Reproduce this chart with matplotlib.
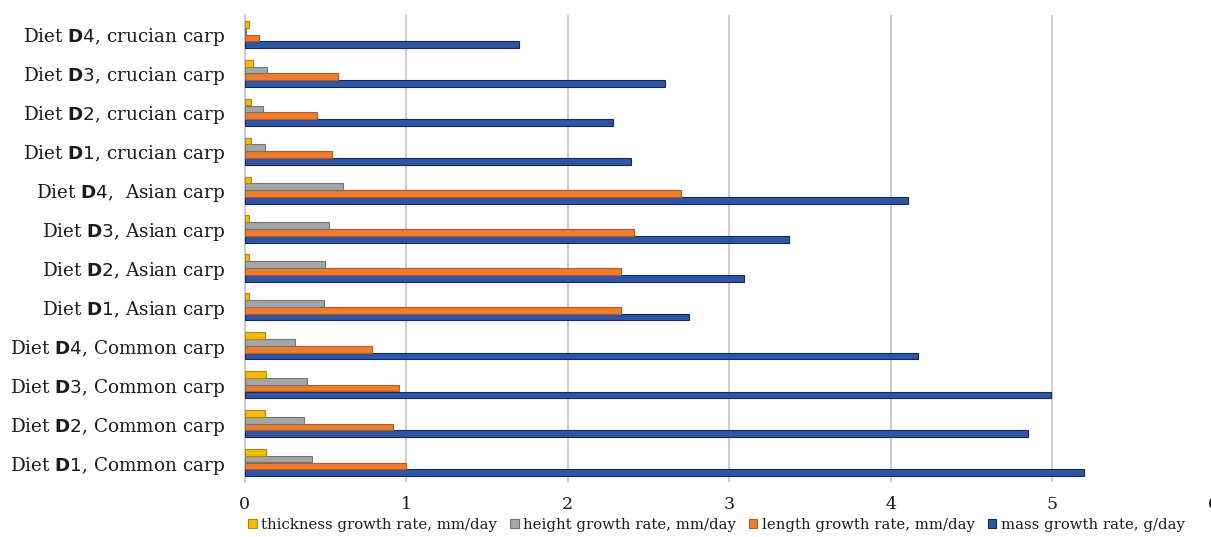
import numpy as np
import matplotlib.pyplot as plt

plt.rcParams['font.family'] = 'DejaVu Serif'
plt.rcParams['mathtext.fontset'] = 'custom'
plt.rcParams['mathtext.rm'] = 'DejaVu Serif'
plt.rcParams['mathtext.bf'] = 'DejaVu Sans:bold'
plt.rcParams['mathtext.sf'] = 'DejaVu Sans'

# groups from bottom to top
fish = ['Common carp'] * 4 + ['Asian carp'] * 4 + ['crucian carp'] * 4
diets = ['1', '2', '3', '4'] * 3

mass = [5.20, 4.85, 4.99, 4.17, 2.75, 3.09, 3.37, 4.11, 2.39, 2.28, 2.60, 1.70]
length = [1.00, 0.92, 0.955, 0.79, 2.33, 2.33, 2.41, 2.70, 0.54, 0.45, 0.58, 0.087]
height = [0.42, 0.367, 0.385, 0.31, 0.49, 0.50, 0.52, 0.61, 0.126, 0.115, 0.136, 0.006]
thickness = [0.13, 0.125, 0.135, 0.125, 0.03, 0.03, 0.03, 0.04, 0.04, 0.04, 0.05, 0.03]

labels = []
for d, f in zip(diets, fish):
    sep = ',  ' if (d == '4' and f == 'Asian carp') else ', '
    labels.append(r'Diet $\mathbf{D}\mathsf{' + d + '}$' + sep + f)

series = [
    (mass, 'mass growth rate, g/day', '#2F56A6', '#14285A'),
    (length, 'length growth rate, mm/day', '#ED7D31', '#B45A1C'),
    (height, 'height growth rate, mm/day', '#A5A5A5', '#737373'),
    (thickness, 'thickness growth rate, mm/day', '#F2BC0C', '#B08800'),
]

fig = plt.figure(figsize=(12.11, 5.37), dpi=100)
ax = fig.add_axes([0.202, 0.1025, 0.8002, 0.8695])

y = np.arange(len(labels))
h = 0.175
bars = []
for k, (vals, name, col, edge) in enumerate(series):
    b = ax.barh(y + (k - 1.5) * h, vals, height=h * 0.98, color=col,
                edgecolor=edge, linewidth=0.8, label=name, zorder=3)
    bars.append(b)

ax.set_xlim(0, 6)
ax.set_ylim(-0.5, len(labels) - 0.5)
ax.set_xticks(range(7))
ax.set_yticks(y)
ax.set_yticklabels(labels, fontsize=13.2, color='#1a1a1a')
ax.tick_params(axis='x', labelsize=12.5, length=0, pad=10, labelcolor='#1a1a1a')
ax.tick_params(axis='y', length=0, pad=14)
ax.grid(axis='x', color='#C8C8C8', linewidth=1.3, zorder=0)
for s in ['top', 'right', 'bottom']:
    ax.spines[s].set_visible(False)
ax.spines['left'].set_color('#C8C8C8')
ax.spines['left'].set_linewidth(1.3)

# legend entries in reverse stacking order
handles = bars[::-1]
ax.legend(handles, [s[1] for s in series[::-1]], loc='upper center',
          bbox_to_anchor=(0.487, -0.064), ncol=4, frameon=False, fontsize=10.7,
          handlelength=0.55, handleheight=0.55, handletextpad=0.3,
          columnspacing=0.9, borderaxespad=0, labelcolor='#1a1a1a')

fig.savefig('out.png', dpi=100)
